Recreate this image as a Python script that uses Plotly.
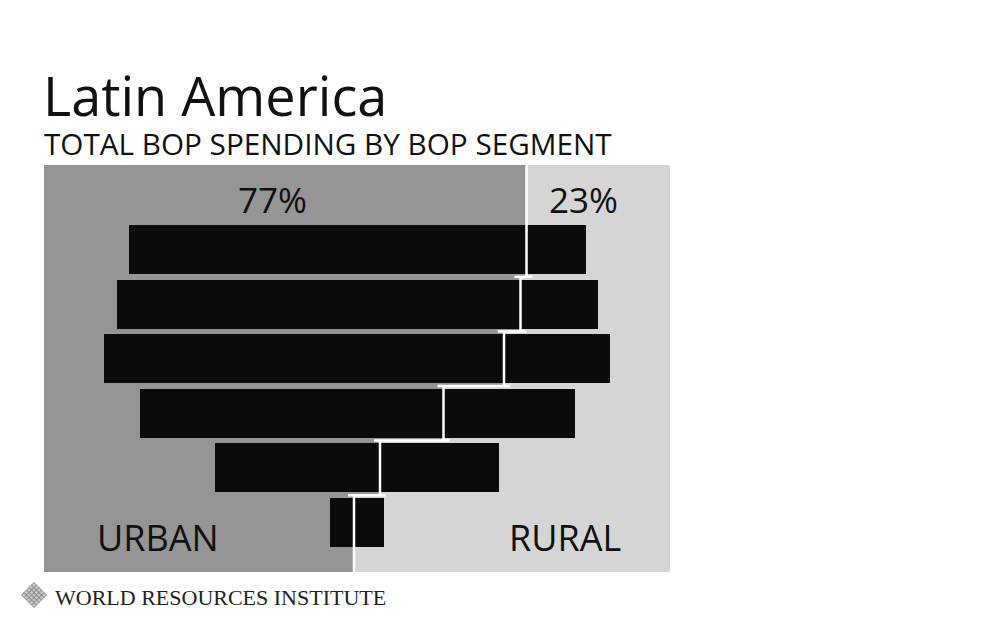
import plotly.graph_objects as go

# ---- data (relative spending units) ----
segments = ["BOP 3000", "BOP 2500", "BOP 2000", "BOP 1500", "BOP 1000", "BOP 500"]
urban = [398, 404, 400, 304, 165, 24]
rural = [59, 77, 106, 131, 119, 30]
share_labels = ["77%", "23%"]
side_labels = ["URBAN", "RURAL"]
title_text = "Latin America"
subtitle_text = "TOTAL BOP SPENDING BY BOP SEGMENT"
footer_text = "WORLD RESOURCES INSTITUTE"

# ---- geometry / style ----
PAGE_OFF = 8                            # default body margin of the html page
W, H = 1000, 625
L, R, T, B = 44, 670, 165, 572          # plot-area pixel box (in the picture)
XR = [-313, 313]
YR = [5.907, -1.548]
DARK = "#959595"
LIGHT = "#d5d5d5"
BAR = "#0b0b0b"
FONT = "Open Sans"


def px(x):
    return (x - L) / (R - L)


def py(y):
    return (B - y) / (B - T)


n = len(segments)
ypos = list(range(n))
totals = [u + r for u, r in zip(urban, rural)]
left = [-t / 2 for t in totals]
split = [l + u for l, u in zip(left, urban)]

fig = go.Figure()

fig.add_trace(go.Bar(
    y=ypos, x=urban, base=left, orientation="h", width=0.9,
    marker=dict(color=BAR, line=dict(width=0)), name="Urban",
    hoverinfo="skip", showlegend=False,
))
fig.add_trace(go.Bar(
    y=ypos, x=rural, base=split, orientation="h", width=0.9,
    marker=dict(color=BAR, line=dict(width=0)), name="Rural",
    hoverinfo="skip", showlegend=False,
))

# white stepped divider between urban and rural
lx, ly = [], []
ov = 6
for i in range(n):
    y0 = YR[1] if i == 0 else i - 0.5
    y1 = YR[0] if i == n - 1 else i + 0.5
    lx += [split[i], split[i], None]
    ly += [y0, y1, None]
    if i < n - 1:
        a, b = sorted([split[i], split[i + 1]])
        lx += [a - ov, b + ov, None]
        ly += [i + 0.5, i + 0.5, None]
fig.add_trace(go.Scatter(
    x=lx, y=ly, mode="lines", line=dict(color="white", width=2.5),
    hoverinfo="skip", showlegend=False,
))

# dark urban background region following the steps
path = f"M {XR[0]} {YR[1]} L {split[0]} {YR[1]} "
for i in range(n):
    y1 = YR[0] if i == n - 1 else i + 0.5
    path += f"L {split[i]} {y1} "
    if i < n - 1:
        path += f"L {split[i + 1]} {y1} "
path += f"L {XR[0]} {YR[0]} Z"

shapes = [dict(type="path", path=path, xref="x", yref="y", layer="below",
               fillcolor=DARK, line=dict(width=0))]

# WRI logo (woven diamond)
cx, cy, r = 34, 595, 12.5
shapes.append(dict(type="path", xref="paper", yref="paper",
                   path=f"M {px(cx - r)} {py(cy)} L {px(cx)} {py(cy - r)} L {px(cx + r)} {py(cy)} L {px(cx)} {py(cy + r)} Z",
                   fillcolor="#c8c8c8", line=dict(color="#8a8a8a", width=1)))
for k in range(1, 5):
    f = k / 5
    ax0, ay0 = cx - r + f * r, cy - f * r
    ax1, ay1 = cx + f * r, cy + r - f * r
    shapes.append(dict(type="line", xref="paper", yref="paper",
                       x0=px(ax0), y0=py(ay0), x1=px(ax1), y1=py(ay1),
                       line=dict(color="#7a7a7a", width=1)))
    bx0, by0 = cx - r + f * r, cy + f * r
    bx1, by1 = cx + f * r, cy - r + f * r
    shapes.append(dict(type="line", xref="paper", yref="paper",
                       x0=px(bx0), y0=py(by0), x1=px(bx1), y1=py(by1),
                       line=dict(color="#7a7a7a", width=1)))

ann = []
ann.append(dict(text=title_text, x=px(41), y=py(95), xref="paper", yref="paper",
                xanchor="left", yanchor="middle", showarrow=False, height=52,
                font=dict(family=FONT, size=54, color="#111111")))
ann.append(dict(text=subtitle_text, x=px(42), y=py(143), xref="paper", yref="paper",
                xanchor="left", yanchor="middle", showarrow=False, height=30,
                font=dict(family=FONT, size=29.7, color="#111111")))
ann.append(dict(text=share_labels[0], x=px(272), y=py(199), xref="paper", yref="paper",
                xanchor="center", yanchor="middle", showarrow=False,
                font=dict(family=FONT, size=35, color="#111111")))
ann.append(dict(text=share_labels[1], x=px(583), y=py(199), xref="paper", yref="paper",
                xanchor="center", yanchor="middle", showarrow=False,
                font=dict(family=FONT, size=35, color="#111111")))
ann.append(dict(text=side_labels[0], x=px(158), y=py(537), xref="paper", yref="paper",
                xanchor="center", yanchor="middle", showarrow=False,
                font=dict(family=FONT, size=36, color="#111111")))
ann.append(dict(text=side_labels[1], x=px(565), y=py(537), xref="paper", yref="paper",
                xanchor="center", yanchor="middle", showarrow=False,
                font=dict(family=FONT, size=36, color="#111111")))
ann.append(dict(text=footer_text, x=px(53), y=py(597), xref="paper", yref="paper",
                xanchor="left", yanchor="middle", showarrow=False,
                font=dict(family="Liberation Serif", size=22, color="#222222")))

fig.update_layout(
    width=W - PAGE_OFF, height=H - PAGE_OFF,
    margin=dict(l=L - PAGE_OFF, r=W - R, t=T - PAGE_OFF, b=H - B, pad=0),
    paper_bgcolor="white", plot_bgcolor=LIGHT,
    barmode="overlay", bargap=0,
    xaxis=dict(range=XR, visible=False, showgrid=False, zeroline=False, fixedrange=True),
    yaxis=dict(range=YR, visible=False, showgrid=False, zeroline=False, fixedrange=True),
    shapes=shapes, annotations=ann, showlegend=False,
)

fig.write_html("out.html")
